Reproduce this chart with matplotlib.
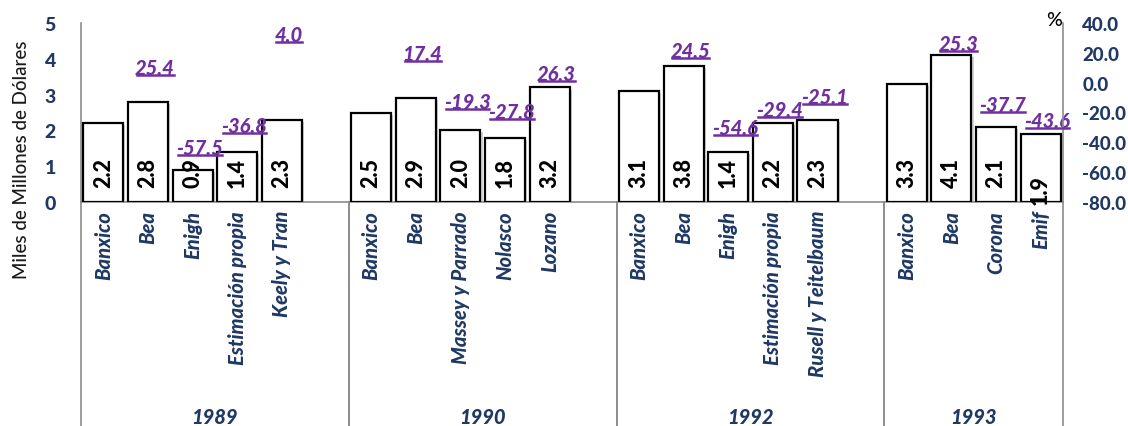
import os
import matplotlib
matplotlib.use('Agg')
import matplotlib.pyplot as plt
from matplotlib.lines import Line2D
from matplotlib import font_manager as fm
import matplotlib.patheffects as pe

# datos por año
years = ['1989', '1990', '1992', '1993']
sources_1989 = ['Banxico', 'Bea', 'Enigh', 'Estimación propia', 'Keely y Tran']
sources_1990 = ['Banxico', 'Bea', 'Massey y Parrado', 'Nolasco', 'Lozano']
sources_1992 = ['Banxico', 'Bea', 'Enigh', 'Estimación propia', 'Rusell y Teitelbaum']
sources_1993 = ['Banxico', 'Bea', 'Corona', 'Emif']

values_1989 = [2.2, 2.8, 0.9, 1.4, 2.3]
values_1990 = [2.5, 2.9, 2.0, 1.8, 3.2]
values_1992 = [3.1, 3.8, 1.4, 2.2, 2.3]
values_1993 = [3.3, 4.1, 2.1, 1.9]

# diferencia % respecto a Banxico
pct_1989 = [None, 25.4, -57.5, -36.8, 4.0]
pct_1990 = [None, 17.4, -19.3, -27.8, 26.3]
pct_1992 = [None, 24.5, -54.6, -29.4, -25.1]
pct_1993 = [None, 25.3, -37.7, -43.6]

# altura (eje izq.) donde va cada etiqueta %
pct_pos_1989 = [None, 3.76, 1.51, 2.15, 4.69]
pct_pos_1990 = [None, 4.16, 2.82, 2.54, 3.58]
pct_pos_1992 = [None, 4.22, 2.07, 2.57, 2.96]
pct_pos_1993 = [None, 4.44, 2.71, 2.29]

sources = [sources_1989, sources_1990, sources_1992, sources_1993]
values = [values_1989, values_1990, values_1992, values_1993]
pcts = [pct_1989, pct_1990, pct_1992, pct_1993]
pct_pos = [pct_pos_1989, pct_pos_1990, pct_pos_1992, pct_pos_1993]


def font(names, size, fallback_weight='normal', fallback_style='normal'):
    files = {os.path.basename(f.fname).lower(): f.fname for f in fm.fontManager.ttflist}
    for n in names:
        if n in files:
            return fm.FontProperties(fname=files[n], size=size)
    return fm.FontProperties(family='DejaVu Sans', weight=fallback_weight,
                             style=fallback_style, size=size)


BI = ['lato-heavyitalic.ttf', 'lato-blackitalic.ttf', 'lato-bolditalic.ttf',
      'roboto-bolditalic.ttf', 'liberationsans-bolditalic.ttf']
B = ['lato-heavy.ttf', 'lato-black.ttf', 'lato-bold.ttf',
     'roboto-bold.ttf', 'liberationsans-bold.ttf']
R = ['lato-medium.ttf', 'lato-regular.ttf', 'roboto-regular.ttf', 'liberationsans-regular.ttf']

navy = '#1F3864'
purple = '#7030A0'
grey = '#8C8C8C'

W, H = 1128, 427
fig = plt.figure(figsize=(W / 100, H / 100), dpi=100)
ax = fig.add_axes([81 / W, 1 - 203 / H, (1063 - 81) / W, 179 / H])

# posiciones: un hueco vacío entre grupos
xs, vals, labels, pc, pcy, group_span = [], [], [], [], [], []
pos = 0
for g in range(len(years)):
    start = pos
    for i in range(len(values[g])):
        xs.append(pos)
        vals.append(values[g][i])
        labels.append(sources[g][i])
        pc.append(pcts[g][i])
        pcy.append(pct_pos[g][i])
        pos += 1
    if g < len(years) - 1:
        pos += 1
    group_span.append((start - 0.5, pos - 0.5))

bars = ax.bar(xs, vals, width=0.9, color='white', edgecolor='black', linewidth=1.6, zorder=3)
for b in bars:
    b.set_path_effects([pe.SimplePatchShadow(offset=(1.5, -1.5), shadow_rgbFace='grey', alpha=0.35),
                        pe.Normal()])

ax.set_xlim(-0.5, pos - 0.5)
ax.set_ylim(0, 5)
ax.set_yticks(range(0, 6))
ax.tick_params(axis='y', length=0, pad=18, labelcolor=navy)
for t in ax.get_yticklabels():
    t.set_fontproperties(font(B, 14, 'bold'))
ax.set_xticks([])
for s in ['top', 'right']:
    ax.spines[s].set_visible(False)
for s in ['left', 'bottom']:
    ax.spines[s].set_color(grey)
    ax.spines[s].set_linewidth(1.2)

ax2 = ax.twinx()
ax2.set_ylim(-80, 40)
ax2.set_yticks(range(-80, 41, 20))
ax2.set_yticklabels([f'{v:.1f}' for v in range(-80, 41, 20)])
ax2.tick_params(axis='y', length=0, pad=14, labelcolor=navy)
for t in ax2.get_yticklabels():
    t.set_fontproperties(font(B, 13.5, 'bold'))
for s in ['top', 'left', 'bottom']:
    ax2.spines[s].set_visible(False)
ax2.spines['right'].set_color(grey)
ax2.spines['right'].set_linewidth(1.2)

# valores dentro de las barras
for x, v in zip(xs, vals):
    ypos = 0.36 if x == xs[-1] else 0.84
    ax.text(x, ypos, f'{v:.1f}', rotation=90, ha='center', va='center',
            fontproperties=font(B, 15.5, 'bold'), color='black', zorder=5)

# etiquetas de categoría
for x, lab in zip(xs, labels):
    ax.text(x, -0.22, lab, rotation=90, ha='center', va='top',
            fontproperties=font(BI, 14.5, 'bold', 'italic'), color=navy, clip_on=False)

# separadores de grupo y años
trans = ax.get_xaxis_transform()
for g, (a, b) in enumerate(group_span):
    for xx in (a, b):
        ax.add_line(Line2D([xx, xx], [0, -1.3], transform=trans, color=grey,
                           linewidth=1.2, clip_on=False))
    ax.text((a + b) / 2, -1.2, years[g], transform=trans, ha='center', va='center',
            fontproperties=font(BI, 14.5, 'bold', 'italic'), color=navy)

# diferencias porcentuales (subrayadas)
pct_texts = []
for x, p, yy in zip(xs, pc, pcy):
    if p is None:
        continue
    t = ax.text(x + 0.15, yy, f'{p:.1f}', ha='center', va='center',
                fontproperties=font(BI, 14.5, 'bold', 'italic'), color=purple, zorder=6)
    pct_texts.append(t)

fig.text(1054 / W, 1 - 20 / H, '%', ha='center', va='center',
         fontproperties=font(R, 14), color='black')
fig.text(22 / W, 1 - 160 / H, 'Miles de Millones de Dólares', rotation=90,
         ha='center', va='center', fontproperties=font(R, 13.5), color='#1a1a1a')

fig.canvas.draw()
inv = fig.transFigure.inverted()
for t in pct_texts:
    bb = t.get_window_extent()
    (x0, y0), (x1, _) = inv.transform([(bb.x0 + 2, bb.y0 + 2), (bb.x1 - 1, bb.y0)])
    fig.add_artist(Line2D([x0, x1], [y0, y0], transform=fig.transFigure,
                          color=purple, linewidth=1.8))

fig.savefig('out.png', dpi=100)
